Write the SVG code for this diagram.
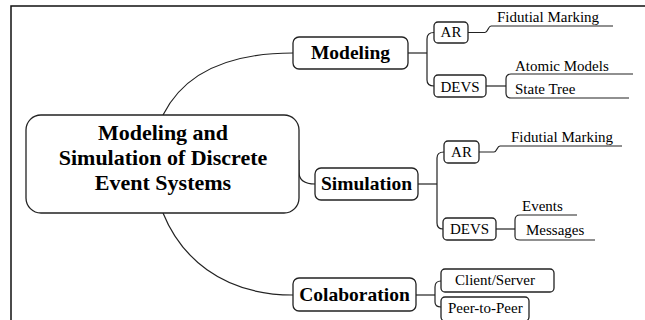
<svg xmlns="http://www.w3.org/2000/svg" width="645" height="320" viewBox="0 0 645 320">
<style>
.box{fill:#fff;stroke:#222;stroke-width:1.3}
.ln{fill:none;stroke:#222;stroke-width:1.2}
text{font-family:'Liberation Serif','Times New Roman','DejaVu Serif',serif;fill:#000}
.b{font-weight:bold}
.s{font-size:15px}
.m{font-size:19.5px}
.c{font-size:22px}
.mid{text-anchor:middle}
</style>
<rect x="0" y="0" width="645" height="320" fill="#fff"/>
<rect x="11" y="6" width="700" height="400" fill="none" stroke="#111" stroke-width="1.5"/>
<g id="connectors">
<path class="ln" d="M163,115 C183,75 225,53 293,53"/>
<path class="ln" d="M299,160 L299,172 C299,180 305,184 315,184"/>
<path class="ln" d="M163,213 C180,255 220,295 293,295"/>
<path class="ln" d="M408,53 L427,53"/>
<path class="ln" d="M434,32.5 C429,32.5 427,35 427,39 L427,80 C427,84 429,86 434,86"/>
<path class="ln" d="M468,32.5 L485,32.5 C488,32.5 488,26 491,26 L613,26"/>
<path class="ln" d="M486,86 L506,86"/>
<path class="ln" d="M633,74 L511,74 C507,74 506,76 506,79 L506,93 C506,96 507,98 511,98 L629,98"/>
<path class="ln" d="M418,184 L437,184"/>
<path class="ln" d="M444,152 C439,152 437,154 437,158 L437,223 C437,227 439,229 443,229"/>
<path class="ln" d="M479,152 L494,152 C497,152 497,146 500,146 L622,146"/>
<path class="ln" d="M496,229 L515,229"/>
<path class="ln" d="M577,215 L520,215 C516,215 515,217 515,220 L515,236 C515,239 516,240 520,240 L595,240"/>
<path class="ln" d="M416,295 L435,295"/>
<path class="ln" d="M441,281 C437,281 435,283 435,287 L435,302 C435,305 437,307 441,307"/>
</g>
<g id="central">
<rect class="box" x="26" y="115" width="273" height="98" rx="15"/>
<text class="b c mid" x="163" y="140">Modeling and</text>
<text class="b c mid" x="163" y="165">Simulation of Discrete</text>
<text class="b c mid" x="163" y="190">Event Systems</text>
</g>
<g id="modeling">
<rect class="box" x="293" y="37" width="115" height="32" rx="6"/>
<text class="b m mid" x="350.5" y="59">Modeling</text>
</g>
<g id="simulation">
<rect class="box" x="315" y="168" width="103" height="32" rx="6"/>
<text class="b m mid" x="366.5" y="190">Simulation</text>
</g>
<g id="colaboration">
<rect class="box" x="293" y="278" width="123" height="33" rx="6"/>
<text class="b m mid" x="354.5" y="301">Colaboration</text>
</g>
<g id="mod-ar">
<rect class="box" x="434" y="22" width="34" height="21" rx="4"/>
<text class="s mid" x="451" y="37">AR</text>
</g>
<g id="mod-ar-fm">
<text class="s" x="497" y="22">Fidutial Marking</text>
</g>
<g id="mod-devs">
<rect class="box" x="434" y="75" width="52" height="22" rx="4"/>
<text class="s mid" x="460" y="92">DEVS</text>
</g>
<g id="mod-devs-atomic">
<text class="s" x="515" y="71">Atomic Models</text>
</g>
<g id="mod-devs-state">
<text class="s" x="515" y="94">State Tree</text>
</g>
<g id="sim-ar">
<rect class="box" x="444" y="141" width="35" height="22" rx="4"/>
<text class="s mid" x="461.5" y="157">AR</text>
</g>
<g id="sim-ar-fm">
<text class="s" x="511" y="142">Fidutial Marking</text>
</g>
<g id="sim-devs">
<rect class="box" x="443" y="218" width="53" height="22" rx="4"/>
<text class="s mid" x="469.5" y="234">DEVS</text>
</g>
<g id="sim-devs-events">
<text class="s" x="522" y="211">Events</text>
</g>
<g id="sim-devs-messages">
<text class="s" x="526" y="235">Messages</text>
</g>
<g id="client-server">
<rect class="box" x="441" y="269" width="113" height="23" rx="4"/>
<text class="s" x="455" y="285">Client/Server</text>
</g>
<g id="peer-to-peer">
<rect class="box" x="441" y="297" width="88" height="24" rx="4"/>
<text class="s" x="448" y="313">Peer-to-Peer</text>
</g>
</svg>
